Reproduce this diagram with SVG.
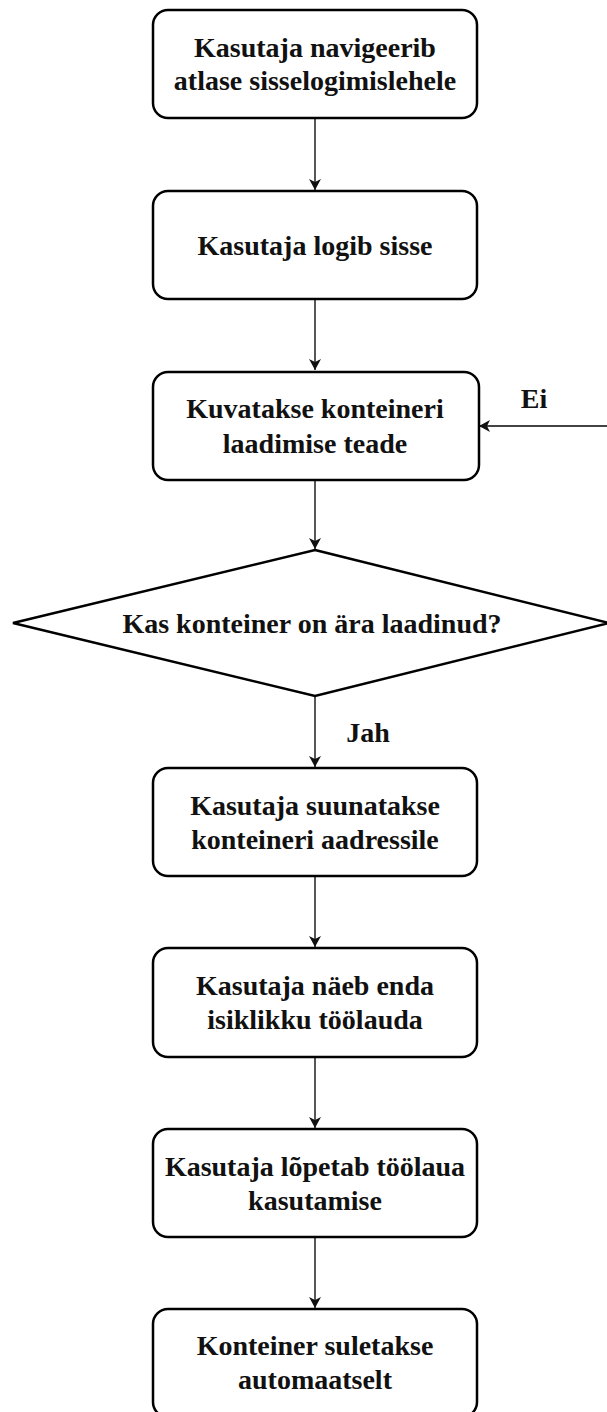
<svg xmlns="http://www.w3.org/2000/svg" width="607" height="1412" viewBox="0 0 607 1412">
<style>
.box{fill:#fff;stroke:#000;stroke-width:2.5}
.t{font-family:"Liberation Serif","Times New Roman",serif;font-weight:bold;font-size:28px;fill:#111;text-anchor:middle}
.c{stroke:#444;stroke-width:1.8;fill:none;marker-end:url(#ah)}
</style>
<defs>
<marker id="ah" markerUnits="userSpaceOnUse" markerWidth="14" markerHeight="14" viewBox="0 0 14 14" refX="12" refY="7" orient="auto">
<path d="M1,1 L12,7 L1,13 L4,7 Z" fill="#111"/>
</marker>
</defs>
<rect width="607" height="1412" fill="#fff"/>
<g id="connectors">
<line class="c" x1="315" y1="118" x2="315" y2="190"/>
<line class="c" x1="315" y1="299" x2="315" y2="370"/>
<line class="c" x1="315" y1="480" x2="315" y2="549"/>
<line class="c" x1="315" y1="696" x2="315" y2="767"/>
<line class="c" x1="315" y1="876" x2="315" y2="947"/>
<line class="c" x1="315" y1="1057" x2="315" y2="1128"/>
<line class="c" x1="315" y1="1237" x2="315" y2="1308"/>
<line class="c" x1="612" y1="426" x2="479" y2="426"/>
<text class="t" x="534" y="408">Ei</text>
<text class="t" x="368" y="742">Jah</text>
</g>
<g id="n1">
<rect class="box" x="153" y="10" width="324" height="108" rx="15"/>
<text class="t" x="315" y="57">Kasutaja navigeerib</text>
<text class="t" x="315" y="90">atlase sisselogimislehele</text>
</g>
<g id="n2">
<rect class="box" x="153" y="191" width="324" height="108" rx="15"/>
<text class="t" x="315" y="255">Kasutaja logib sisse</text>
</g>
<g id="n3">
<rect class="box" x="153" y="372" width="326" height="108" rx="15"/>
<text class="t" x="315" y="418">Kuvatakse konteineri</text>
<text class="t" x="315" y="453">laadimise teade</text>
</g>
<g id="n4">
<polygon class="box" points="315,550 609,623 315,696 13,623"/>
<text class="t" x="312" y="633">Kas konteiner on ära laadinud?</text>
</g>
<g id="n5">
<rect class="box" x="153" y="768" width="324" height="108" rx="15"/>
<text class="t" x="315" y="815">Kasutaja suunatakse</text>
<text class="t" x="315" y="849">konteineri aadressile</text>
</g>
<g id="n6">
<rect class="box" x="153" y="948" width="324" height="109" rx="15"/>
<text class="t" x="315" y="995">Kasutaja näeb enda</text>
<text class="t" x="315" y="1029">isiklikku töölauda</text>
</g>
<g id="n7">
<rect class="box" x="153" y="1129" width="324" height="108" rx="15"/>
<text class="t" x="315" y="1176">Kasutaja lõpetab töölaua</text>
<text class="t" x="315" y="1210">kasutamise</text>
</g>
<g id="n8">
<rect class="box" x="153" y="1309" width="324" height="108" rx="15"/>
<text class="t" x="315" y="1355">Konteiner suletakse</text>
<text class="t" x="315" y="1389">automaatselt</text>
</g>
</svg>
